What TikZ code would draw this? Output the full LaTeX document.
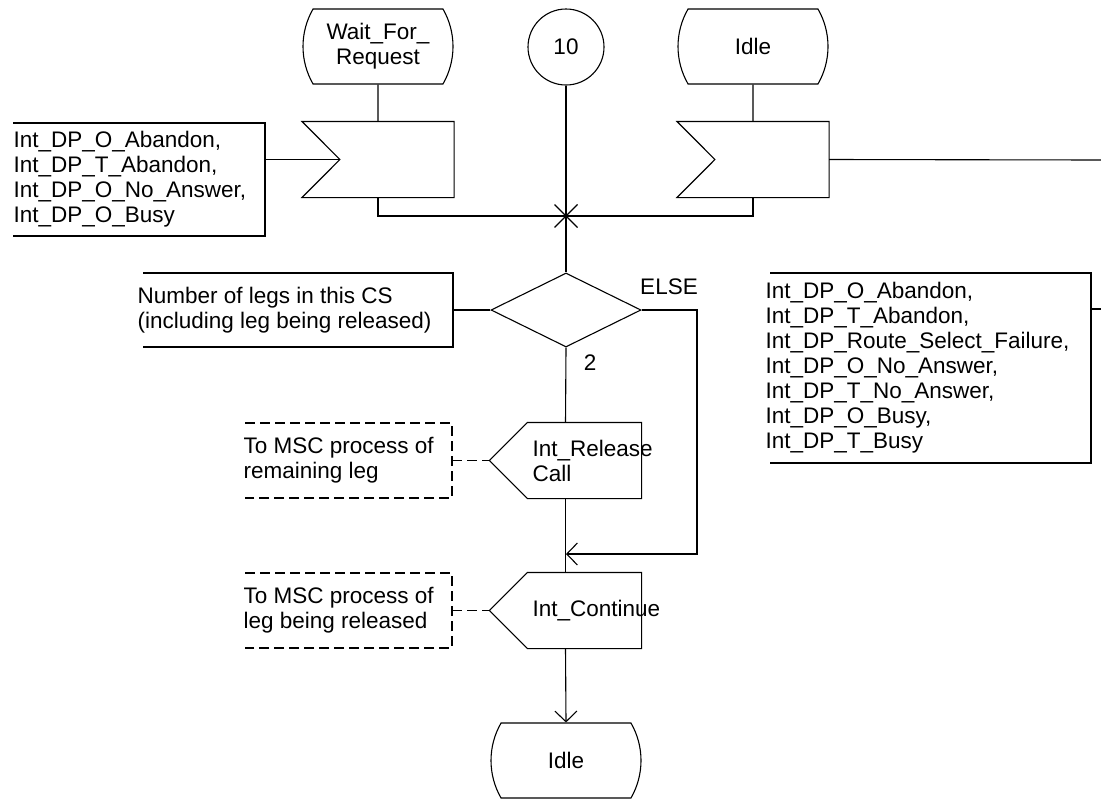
\documentclass[tikz,border=0pt]{standalone}
\usepackage{fontspec}
\setmainfont{Liberation Sans}
\usetikzlibrary{shapes.misc,shapes.geometric,arrows.meta}

\tikzset{
  sdl/.style={draw, line width=0.55pt, inner sep=0pt},
  state/.style={sdl, rounded rectangle, rounded rectangle arc length=60, minimum width=75pt, minimum height=37.5pt, align=center},
  sigbox/.style={rectangle, inner sep=0pt, minimum width=75.5pt, minimum height=37.5pt},
  connector/.style={sdl, circle, minimum size=38pt},
  decision/.style={sdl, diamond, minimum width=75pt, minimum height=37pt},
  comtext/.style={anchor=west, align=left, inner sep=0pt},
  comdash/.style={dash pattern=on 5pt off 2.5pt}
}

\begin{document}
\begin{tikzpicture}[x=0.5pt, y=-0.5pt, line width=0.55pt, every node/.style={font=\fontsize{11.25}{12.5}\selectfont}, >={Straight Barb[length=5.3pt,width=11pt]}]
	\useasboundingbox (0,0) rectangle (1101,798);
	% states, connector and inputs
	\node[state] (wait) at (378,46.5) {Wait\_For\_\\Request};
	\node[connector] (c10) at (566,47) {10};
	\node[state] (idle1) at (753,46.5) {Idle};
	\node[sigbox] (in1) at (378,159.5) {};
	\node[sigbox] (in2) at (753,159.5) {};
	\coordinate (in1tip) at ([xshift=19pt]in1.west);
	\coordinate (in2tip) at ([xshift=19pt]in2.west);
	\draw (in1.north west) -- (in1.north east) -- (in1.south east) -- (in1.south west) -- (in1tip) -- cycle;
	\draw (in2.north west) -- (in2.north east) -- (in2.south east) -- (in2.south west) -- (in2tip) -- cycle;
	\draw (wait) -- (in1);
	\draw (idle1) -- (in2);
	\coordinate (join) at (566,216);
	\draw (in1.south) |- (join);
	\draw (in2.south) |- (join);
	\draw ([shift={(-11.5,-11.5)}]join) -- ([shift={(11.5,11.5)}]join);
	\draw ([shift={(-11.5,11.5)}]join) -- ([shift={(11.5,-11.5)}]join);
	% comments on the inputs
	\node[comtext] (cin) at (13,179.5) {Int\_DP\_O\_Abandon,\\Int\_DP\_T\_Abandon,\\Int\_DP\_O\_No\_Answer,\\Int\_DP\_O\_Busy};
	\draw (13,123) -| (265,236) -- (13,236);
	\coordinate (cinR) at (265,159.5);
	\draw (cinR) -- (in1tip);
	\coordinate (in2E) at (1101,160);
	\draw (in2.east) -- (in2E);
	\node[comtext] (csig) at (765,368) {Int\_DP\_O\_Abandon,\\Int\_DP\_T\_Abandon,\\Int\_DP\_Route\_Select\_Failure,\\Int\_DP\_O\_No\_Answer,\\Int\_DP\_T\_No\_Answer,\\Int\_DP\_O\_Busy,\\Int\_DP\_T\_Busy};
	\draw (770,273) -| (1091,463) -- (770,463);
	\coordinate (csigR) at (1091,309);
	\coordinate (csigE) at (1101,309);
	\draw (csigR) -- (csigE);
	% decision
	\node[decision] (dec) at (566,310) {};
	\draw (c10) -- (dec.north);
	\node[comtext] (cnum) at (137,310) {Number of legs in this CS\\(including leg being released)};
	\draw (143,273) -| (453,347) -- (143,347);
	\coordinate (cnumR) at (453,310);
	\draw (cnumR) -- (dec.west);
	\node (else) at (669,287) {ELSE};
	\node (two) at (590,363) {2};
	% outputs
	\node[sigbox] (rel) at (565.5,460.5) {};
	\node[sigbox] (cont) at (565.5,610.5) {};
	\draw (rel.west) -- ([xshift=19pt]rel.north west) -- (rel.north east) -- (rel.south east) -- ([xshift=19pt]rel.south west) -- cycle;
	\draw (cont.west) -- ([xshift=19pt]cont.north west) -- (cont.north east) -- (cont.south east) -- ([xshift=19pt]cont.south west) -- cycle;
	\node[comtext] (reltxt) at (532,460.5) {Int\_Release\\Call};
	\node[comtext] (conttxt) at (532,610.5) {Int\_Continue};
	\node[state] (idle2) at (566,760.5) {Idle};
	\coordinate (elseC) at (697,310);
	\coordinate (merge) at (566,554);
	\draw (dec.south) -- (rel.north);
	\draw (rel.south) -- (cont.north);
	\draw[->] (dec.east) -- (elseC) |- (merge);
	\draw[->] (cont.south) -- (idle2.north);
	% dashed comments
	\node[comtext] (crem) at (243,460.5) {To MSC process of\\remaining leg};
	\draw[comdash] (245,423) -| (452,498) -- (245,498);
	\coordinate (cremR) at (452,460.5);
	\draw[comdash] (cremR) -- (rel.west);
	\node[comtext] (cleg) at (243,610.5) {To MSC process of\\leg being released};
	\draw[comdash] (245,573) -| (452,648) -- (245,648);
	\coordinate (clegR) at (452,610.5);
	\draw[comdash] (clegR) -- (cont.west);
\end{tikzpicture}
\end{document}
